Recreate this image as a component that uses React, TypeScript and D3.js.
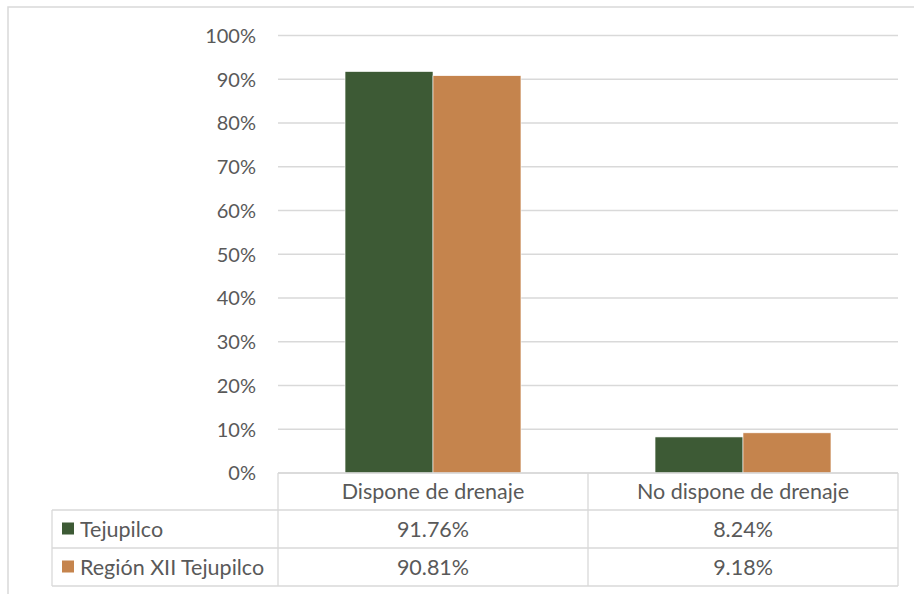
import React from "react";
import * as d3 from "d3";

const categories = ["Dispone de drenaje", "No dispone de drenaje"];
const seriesNames = ["Tejupilco", "Región XII Tejupilco"];
const tejupilco = [91.76, 8.24];
const region = [90.81, 9.18];
const seriesColors = ["#3d5a35", "#c5844d"];
const yTicks = [0, 10, 20, 30, 40, 50, 60, 70, 80, 90, 100];

const W = 914;
const H = 594;
const FONT = "Lato, 'Open Sans', sans-serif";
const TEXT = "#595959";
const GRID = "#d9d9d9";
const AXIS_SIZE = 20;
const TABLE_SIZE = 21.5;

export default function App() {
  const m = { left: 278, right: 898, top: 35.5, bottom: 473 };
  const x = d3.scaleBand<string>().domain(categories).range([m.left, m.right]).paddingInner(0).paddingOuter(0);
  const inner = d3
    .scaleBand<string>()
    .domain(seriesNames)
    .range([0, x.bandwidth()])
    .paddingInner(0)
    .paddingOuter(0.762);
  const y = d3.scaleLinear().domain([0, 100]).range([m.bottom, m.top]);

  const series = [tejupilco, region];
  const tableLeft = 52;
  const rows = [m.bottom, 510, 548, 586];

  return (
    <svg width={W} height={H} style={{ position: "absolute", left: 0, top: 0, background: "#fff" }}>
      <rect x={8} y={7} width={W} height={H} fill="#fff" stroke={GRID} strokeWidth={1.5} />

      {yTicks.map((t) => (
        <g key={t}>
          <line x1={m.left} x2={m.right} y1={y(t)} y2={y(t)} stroke={GRID} strokeWidth={1.3} />
          <text x={256} y={y(t) + 7.3} textAnchor="end" fontFamily={FONT} fontSize={AXIS_SIZE} fill={TEXT}>
            {t}%
          </text>
        </g>
      ))}

      {categories.map((c, ci) => (
        <g key={c} transform={`translate(${x(c)},0)`}>
          {seriesNames.map((s, si) => (
            <rect
              key={s}
              x={inner(s)}
              y={y(series[si][ci])}
              width={inner.bandwidth()}
              height={y(0) - y(series[si][ci])}
              fill={seriesColors[si]}
              stroke="#fff"
              strokeWidth={0.6}
            />
          ))}
        </g>
      ))}

      {/* data table under the plot */}
      <g stroke={GRID} strokeWidth={1.3} fill="none">
        <line x1={m.left} x2={m.right} y1={rows[0]} y2={rows[0]} />
        <line x1={tableLeft} x2={m.right} y1={rows[1]} y2={rows[1]} />
        <line x1={tableLeft} x2={m.right} y1={rows[2]} y2={rows[2]} />
        <line x1={tableLeft} x2={m.right} y1={rows[3]} y2={rows[3]} />
        <line x1={tableLeft} x2={tableLeft} y1={rows[1]} y2={rows[3]} />
        <line x1={m.left} x2={m.left} y1={rows[0]} y2={rows[3]} />
        <line x1={x(categories[1])} x2={x(categories[1])} y1={rows[0]} y2={rows[3]} />
        <line x1={m.right} x2={m.right} y1={rows[0]} y2={rows[3]} />
      </g>
      {categories.map((c) => (
        <text
          key={c}
          x={(x(c) as number) + x.bandwidth() / 2}
          y={(rows[0] + rows[1]) / 2 + 7.5}
          textAnchor="middle"
          fontFamily={FONT}
          fontSize={TABLE_SIZE}
          fill={TEXT}
        >
          {c}
        </text>
      ))}
      {seriesNames.map((s, si) => {
        const cy = (rows[si + 1] + rows[si + 2]) / 2;
        return (
          <g key={s}>
            <rect x={62} y={cy - 6.5} width={12} height={12} fill={seriesColors[si]} />
            <text x={80} y={cy + 7.5} fontFamily={FONT} fontSize={TABLE_SIZE} fill={TEXT}>
              {s}
            </text>
            {categories.map((c, ci) => (
              <text
                key={c}
                x={(x(c) as number) + x.bandwidth() / 2}
                y={cy + 7.5}
                textAnchor="middle"
                fontFamily={FONT}
                fontSize={TABLE_SIZE}
                fill={TEXT}
              >
                {series[si][ci].toFixed(2)}%
              </text>
            ))}
          </g>
        );
      })}
    </svg>
  );
}
